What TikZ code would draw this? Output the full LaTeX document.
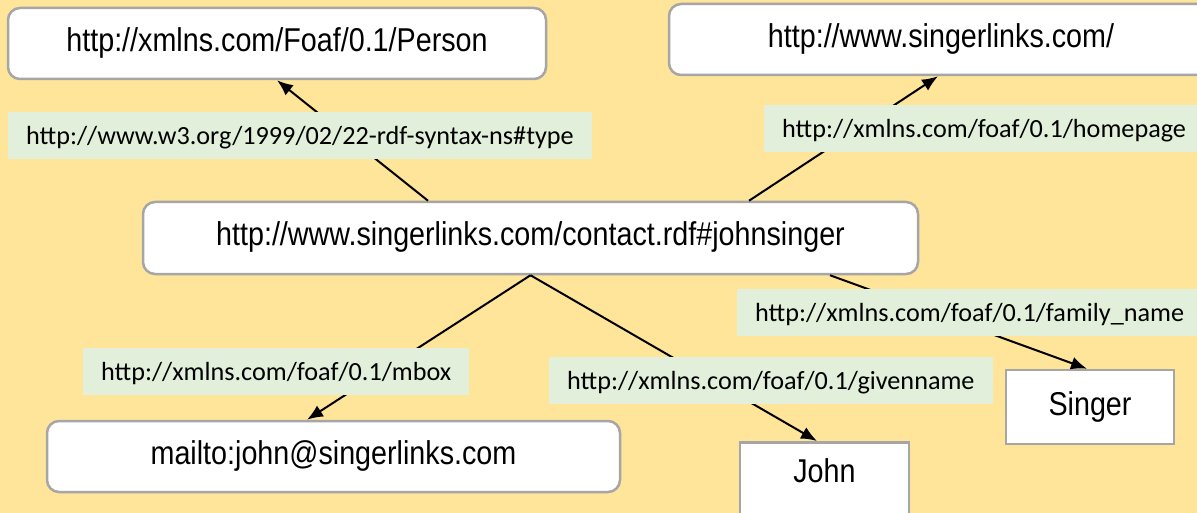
\documentclass[tikz,border=0pt]{standalone}
\usepackage{fontspec}
\setmainfont[FakeStretch=0.87]{Liberation Sans}
\newfontfamily\labfont{Carlito}
\usetikzlibrary{arrows.meta}
\definecolor{bgc}{RGB}{255,229,153}
\definecolor{labc}{RGB}{226,239,218}
\definecolor{brd}{RGB}{166,166,166}
\begin{document}
\begin{tikzpicture}[x=1pt,y=-1pt,
  res/.style={draw=brd,line width=2.5pt,fill=white,rounded corners=12pt,inner sep=0pt,
    font=\fontsize{33pt}{36pt}\selectfont,text height=23pt,text depth=7pt},
  lit/.style={res,rounded corners=0pt},
  lab/.style={fill=labc,inner xsep=18pt,inner ysep=0pt,minimum height=47pt,
    font=\labfont\fontsize{26.2pt}{30pt}\selectfont,text height=18pt,text depth=0pt,anchor=west},
  arr/.style={line width=2pt,-{Latex[length=16pt,width=13pt]}}]
\fill[bgc] (0,0) rectangle (1197,513);
\useasboundingbox (0,0) rectangle (1197,513);
\clip (0,0) rectangle (1197,513);
% resource nodes
\node[res,minimum width=538pt,minimum height=71pt] (P) at (277,43.5) {http://xmlns.com/Foaf/0.1/Person};
\node[res,minimum width=544pt,minimum height=71pt] (H) at (941,39.5) {http://www.singerlinks.com/};
\node[res,minimum width=775pt,minimum height=72pt] (C) at (530.5,238) {http://www.singerlinks.com/contact.rdf\#johnsinger};
\node[res,minimum width=573pt,minimum height=71pt] (M) at (333.5,456.5) {mailto:john@singerlinks.com};
\node[lit,minimum width=169pt,minimum height=79pt,text depth=21pt,anchor=north] (J) at (824.5,441) {John};
\node[lit,minimum width=168pt,minimum height=74pt] (S) at (1090,407) {Singer};
% connectors
\draw[arr] ([xshift=-102.5pt]C.north) -- (P.south);
\draw[arr] ([xshift=218.5pt]C.north) -- ([xshift=-3pt]H.south);
\draw[arr] (C.south) -- ([xshift=-26.5pt]M.north);
\draw[arr] (C.south) -- ([xshift=-7.5pt]J.north);
\draw[arr] ([xshift=299.5pt]C.south) -- ([xshift=-3pt]S.north);
% predicate labels
\node[lab] (Ltype) at (8,135.5) {http://www.w3.org/1999/02/22-rdf-syntax-ns\#type};
\node[lab] (Lhome) at (764,129) {http://xmlns.com/foaf/0.1/homepage};
\node[lab] (Lfam) at (737,312) {http://xmlns.com/foaf/0.1/family\_name};
\node[lab] (Lmbox) at (83,371) {http://xmlns.com/foaf/0.1/mbox};
\node[lab] (Lgiven) at (549,380) {http://xmlns.com/foaf/0.1/givenname};
\end{tikzpicture}
\end{document}
